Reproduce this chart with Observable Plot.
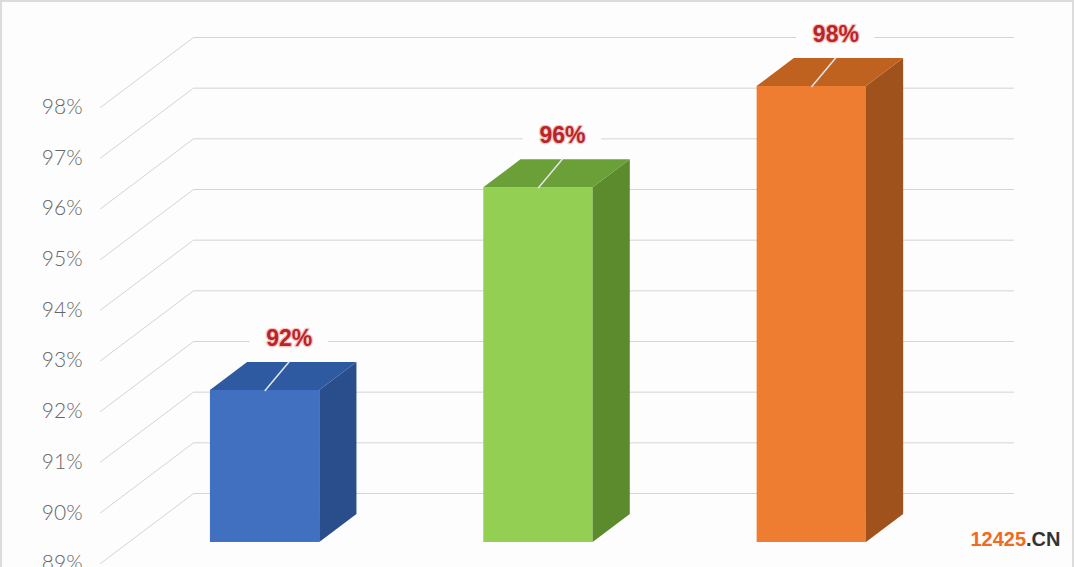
<!DOCTYPE html>
<html>
<head>
<meta charset="utf-8">
<script src="https://cdn.jsdelivr.net/npm/d3@7"></script>
<script src="https://cdn.jsdelivr.net/npm/@observablehq/plot@0.6"></script>
<style>
  body { margin: 0; background: #fdfdfd; }
  #wrap { position: relative; width: 1074px; height: 567px; overflow: hidden; }
  #edge { position: absolute; inset: 0; border: 2px solid #dcdcdc; border-bottom: none; pointer-events: none; }
</style>
</head>
<body>
<div id="wrap"><div id="edge"></div></div>
<script>
// Three column values (percent) and their face colours
const values = [92, 96, 98];
const frontColors = ["#4270c0", "#92cf52", "#ee7d31"];
const topColors = ["#2e5aa2", "#6b9f38", "#c0621f"];
const sideColors = ["#2a4e8b", "#5c8b2e", "#a0521d"];
const valueLabels = ["92%", "96%", "98%"];
const ticks = [89, 90, 91, 92, 93, 94, 95, 96, 97, 98];
const tickLabels = ["89%", "90%", "91%", "92%", "93%", "94%", "95%", "96%", "97%", "98%"];
const baseValue = 89;

// Oblique 3D projection: u = category position, v = value, d = depth (0 = back wall, 1 = front edge)
const DX = 0.34, DY = 1.38;
const px = (u, d) => u - DX * d;
const py = (v, d) => v - DY * d;
const nCat = values.length;
const dFront = 0.7, dBack = 0.3;
const barL = 0.3, barR = 0.7;

// gridlines: side-wall diagonal + back-wall horizontal
const grid = ticks.flatMap(t => [
  {t, X: px(0, 1), Y: py(t, 1)},
  {t, X: px(0, 0), Y: py(t, 0)},
  {t, X: px(nCat, 0), Y: py(t, 0)}
]);

const bars = values.map((v, i) => ({i, v}));

const frontFaces = bars.map(({i, v}) => ({
  x1: px(i + barL, dFront), x2: px(i + barR, dFront),
  y1: py(baseValue, dFront), y2: py(v, dFront), fill: frontColors[i]
}));

const sideFaces = bars.flatMap(({i, v}) => [dFront, dBack].map(d => ({
  i, X: px(i + barR, d), y1: py(baseValue, d), y2: py(v, d), fill: sideColors[i]
})));

const topFaces = bars.flatMap(({i, v}) => [dFront, dBack].map(d => ({
  i, Y: py(v, d), x1: px(i + barL, d), x2: px(i + barR, d), fill: topColors[i]
})));

// value labels sit just above the back-wall line of their value
const labU = 0.35, labDv = 0.06;
const labels = bars.map(({i, v}) => ({
  X: px(i + labU, 0), Y: py(v + labDv, 0), text: valueLabels[i]
}));
const leaders = bars.flatMap(({i, v}) => [
  {i, X: px(i + 0.5, dFront), Y: py(v, dFront)},
  {i, X: px(i + labU, 0), Y: py(v - 0.4, 0)}
]);
const boxW = 0.143, boxH = 0.26;

const axisLabels = ticks.map((t, k) => ({X: px(0, 1), Y: py(t, 1), text: tickLabels[k]}));

const chart = Plot.plot({
  width: 1074,
  height: 567,
  margin: 0,
  x: {domain: [-0.706, 3.223], axis: null},
  y: {domain: [87.54, 98.73], axis: null},
  color: {type: "identity"},
  style: {background: "transparent", overflow: "visible"},
  marks: [
    Plot.line(grid, {x: "X", y: "Y", z: "t", stroke: "#d4d4d4", strokeWidth: 1}),
    Plot.text(axisLabels, {x: "X", y: "Y", text: "text", textAnchor: "end", dx: -18, fontSize: 21,
      fill: "#666666", fontWeight: 300, fontFamily: "Lato, Liberation Sans, Arial, sans-serif"}),
    Plot.rect(frontFaces, {x1: "x1", x2: "x2", y1: "y1", y2: "y2", fill: "fill"}),
    Plot.areaY(sideFaces, {x: "X", y1: "y1", y2: "y2", z: "i", fill: "fill"}),
    Plot.areaX(topFaces, {y: "Y", x1: "x1", x2: "x2", z: "i", fill: "fill"}),
    Plot.line(leaders, {x: "X", y: "Y", z: "i", stroke: "#e3e6ea", strokeWidth: 1.5}),
    Plot.rect(labels, {x1: d => d.X - boxW, x2: d => d.X + boxW, y1: d => d.Y - boxH, y2: d => d.Y + boxH,
      fill: "#fdfdfd"}),
    Plot.text(labels, {x: "X", y: "Y", text: "text", fontSize: 23, fontWeight: "bold", fill: "#b8242a",
      stroke: "#f3c6c1", strokeWidth: 2.5, fontFamily: "Liberation Sans, Arial, sans-serif"}),
    Plot.text([".CN"], {frameAnchor: "bottom-right", text: d => d, textAnchor: "end", dx: -14, dy: -21.5,
      fontSize: 20, fontWeight: "bold", fill: "#333333", fontFamily: "Liberation Sans, Arial, sans-serif"}),
    Plot.text(["12425"], {frameAnchor: "bottom-right", text: d => d, textAnchor: "end", dx: -48.4, dy: -21.5,
      fontSize: 20, fontWeight: "bold", fill: "#f26a1b", fontFamily: "Liberation Sans, Arial, sans-serif"})
  ]
});

document.getElementById("wrap").prepend(chart);
</script>
</body>
</html>
